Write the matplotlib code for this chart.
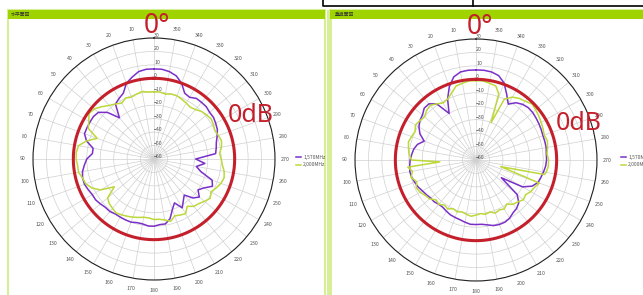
import numpy as np
import matplotlib.pyplot as plt
from matplotlib.patches import Rectangle

plt.rcParams['font.family'] = ['Noto Sans CJK JP', 'DejaVu Sans']

# ---- data (angle in degrees, level in dB) ----
h_ang_1570 = list(range(0, 360, 5))
h_db_1570 = [7, 7, 6, 3, 0, -6, -8, -10, -20, -11, -6, -5, -5, -5, -5, -8, -14, -14,
             -10, -8, -6, -5, -5, -6, -7, -7, -8, -9, -9, -10, -10, -10, -10, -11, -11, -10,
             -10, -11, -11, -14, -20, -24, -18, -22, -25, -19, -16, -20, -17, -12, -14, -24,
             -28, -22, -29, -14, -13, -12, -10, -8, -7, -6, -6, -5, -5, -5, -7, -6, 0, 4, 6, 7]

h_ang_2000 = list(range(0, 360, 5))
h_db_2000 = [-10, -10, -9, -10, -11, -10, -12, -10, -8, -5, -2, -1, -4, -6, -15, -8, -3, -2,
             -2, -3, -3, -5, -6, -9, -14, -24, -15, -13, -12, -11, -12, -13, -14, -15, -16, -16,
             -15, -15, -14, -12, -15, -14, -13, -17, -14, -13, -11, -9, -11, -9, -7, -6,
             -7, -9, -10, -11, -9, -8, -9, -10, -9, -8, -9, -10, -12, -13, -12, -11, -10, -10, -11, -10]

v_ang_1570 = list(range(0, 360, 5))
v_db_1570 = [7, 7, 6.5, 4, -2, -10, -20, -9, -5.5, -5.5, -8, -9, -11, -14, -19, -15, -13, -12,
             -11, -10.5, -10, -10.5, -11.5, -12.5, -14, -15, -16, -16, -17, -17, -16, -15, -14.5, -14, -13, -12,
             -12, -12, -11, -9.5, -9, -9, -10, -12, -13, -15, -20, -37, -20, -14, -11, -10,
             -9, -8, -7.5, -7.5, -7, -7, -7, -6.5, -6, -5.5, -5, -5, -6, -8, -12, -6, 1, 5, 6.5, 7]

v_ang_2000 = [0, 5, 10, 15, 20, 25, 30, 35, 40, 45, 50, 55, 60, 65, 70, 75, 80, 85, 90, 93, 96,
              100, 105, 110, 115, 120, 125, 130, 135, 140, 145, 150, 155, 160, 165, 170, 175,
              180, 185, 190, 195, 200, 205, 210, 215, 220, 225, 230, 235, 240, 245, 250, 255, 258,
              260, 265, 270, 275, 280, 285, 290, 295, 300, 305, 310, 315, 320, 325, 330, 335, 338,
              341, 345, 350, 355]
v_db_2000 = [-1, -1, -2, -3, -7, -10, -11, -9, -7, -8, -10, -9, -8, -10, -9, -8, -9, -10, -12, -33, -9,
             -12, -10, -13, -11, -12, -14, -15, -18, -17, -19, -18, -20, -19, -20, -19, -18,
             -19, -20, -19, -20, -18, -19, -18, -20, -17, -16, -14, -15, -13, -12, -10, -41, -8,
             -7, -6, -6, -7, -6, -5, -6, -5, -4, -3, -2, -1, -3, -4, -6, -10, -30,
             -8, -3, -2, -1]

labels = ['1,570MHz', '2,000MHz']
titles = ['水平面図', '垂直面図']

PURPLE = '#7a2fc8'
GREEN = '#bcd83a'
RED = '#c4202c'
HEAD = '#9fd400'
BORDER = '#d6ee95'

W, H = 643, 295
fig = plt.figure(figsize=(W / 100, H / 100), dpi=100)

# background decorations in pixel coordinates
bg = fig.add_axes([0, 0, 1, 1])
bg.set_xlim(0, W)
bg.set_ylim(H, 0)
bg.axis('off')
bg.add_patch(Rectangle((8, 10), 317, 290, facecolor='white', edgecolor=BORDER, lw=1.5))
bg.add_patch(Rectangle((330, 10), 320, 290, facecolor='white', edgecolor=BORDER, lw=1.5))
bg.add_patch(Rectangle((327, 10), 5, 290, facecolor=BORDER, edgecolor='none'))
bg.add_patch(Rectangle((8, 10), 317, 9, facecolor=HEAD, edgecolor='none'))
bg.add_patch(Rectangle((330, 10), 320, 9, facecolor=HEAD, edgecolor='none'))
bg.text(11, 14.5, titles[0], fontsize=3.5, color='#333', va='center')
bg.text(335, 14.5, titles[1], fontsize=3.5, color='#333', va='center')
# table fragment at the top
bg.plot([323, 323, 650], [-2, 5.5, 5.5], color='black', lw=1.2)
bg.plot([473, 473], [-2, 5.5], color='black', lw=1.2)

panels = [
    (154, 159, h_ang_1570, h_db_1570, h_ang_2000, h_db_2000, (157, 26), (251, 116), 292),
    (476, 160, v_ang_1570, v_db_1570, v_ang_2000, v_db_2000, (480, 27), (579, 124), 617),
]
R = 121

for cx, cy, a1, d1, a2, d2, deg_pos, db_pos, leg_x in panels:
    ax = fig.add_axes([(cx - R) / W, 1 - (cy + R) / H, 2 * R / W, 2 * R / H],
                      projection='polar')
    ax.set_theta_zero_location('N')
    ax.set_theta_direction(1)
    ax.set_ylim(-60, 30)
    ax.set_rticks(range(-60, 31, 10))
    ax.set_rlabel_position(0)
    ax.set_thetagrids(range(0, 360, 10), [''] + [str(t) for t in range(10, 360, 10)])
    ax.tick_params(axis='x', labelsize=3.8, labelcolor='#555', pad=-3)
    ax.tick_params(axis='y', labelsize=3.8, labelcolor='#555')
    ax.grid(color='#d0d0d0', lw=0.5)
    ax.spines['polar'].set_color('#222')
    ax.spines['polar'].set_linewidth(0.8)

    t1 = np.deg2rad(a1 + [360])
    t2 = np.deg2rad(a2 + [360])
    ax.plot(t1, d1 + [d1[0]], color=PURPLE, lw=1.1, label=labels[0])
    ax.plot(t2, d2 + [d2[0]], color=GREEN, lw=1.1, label=labels[1])
    circ = np.linspace(0, 2 * np.pi, 361)
    ax.plot(circ, np.zeros_like(circ), color=RED, lw=2.2)

    ax.legend(loc='center left', bbox_to_anchor=(leg_x / W, 1 - 161 / H),
              bbox_transform=fig.transFigure, frameon=False, fontsize=3.5,
              handlelength=1.0, handletextpad=0.4, labelspacing=0.6,
              labelcolor='#555')

    fig.text(deg_pos[0] / W, 1 - deg_pos[1] / H, '0°', color=RED, fontsize=19,
             ha='center', va='center', family='Noto Sans')
    fig.text(db_pos[0] / W, 1 - db_pos[1] / H, '0dB', color=RED, fontsize=18,
             ha='center', va='center', family='Noto Sans')

fig.savefig('out.png', dpi=100)
